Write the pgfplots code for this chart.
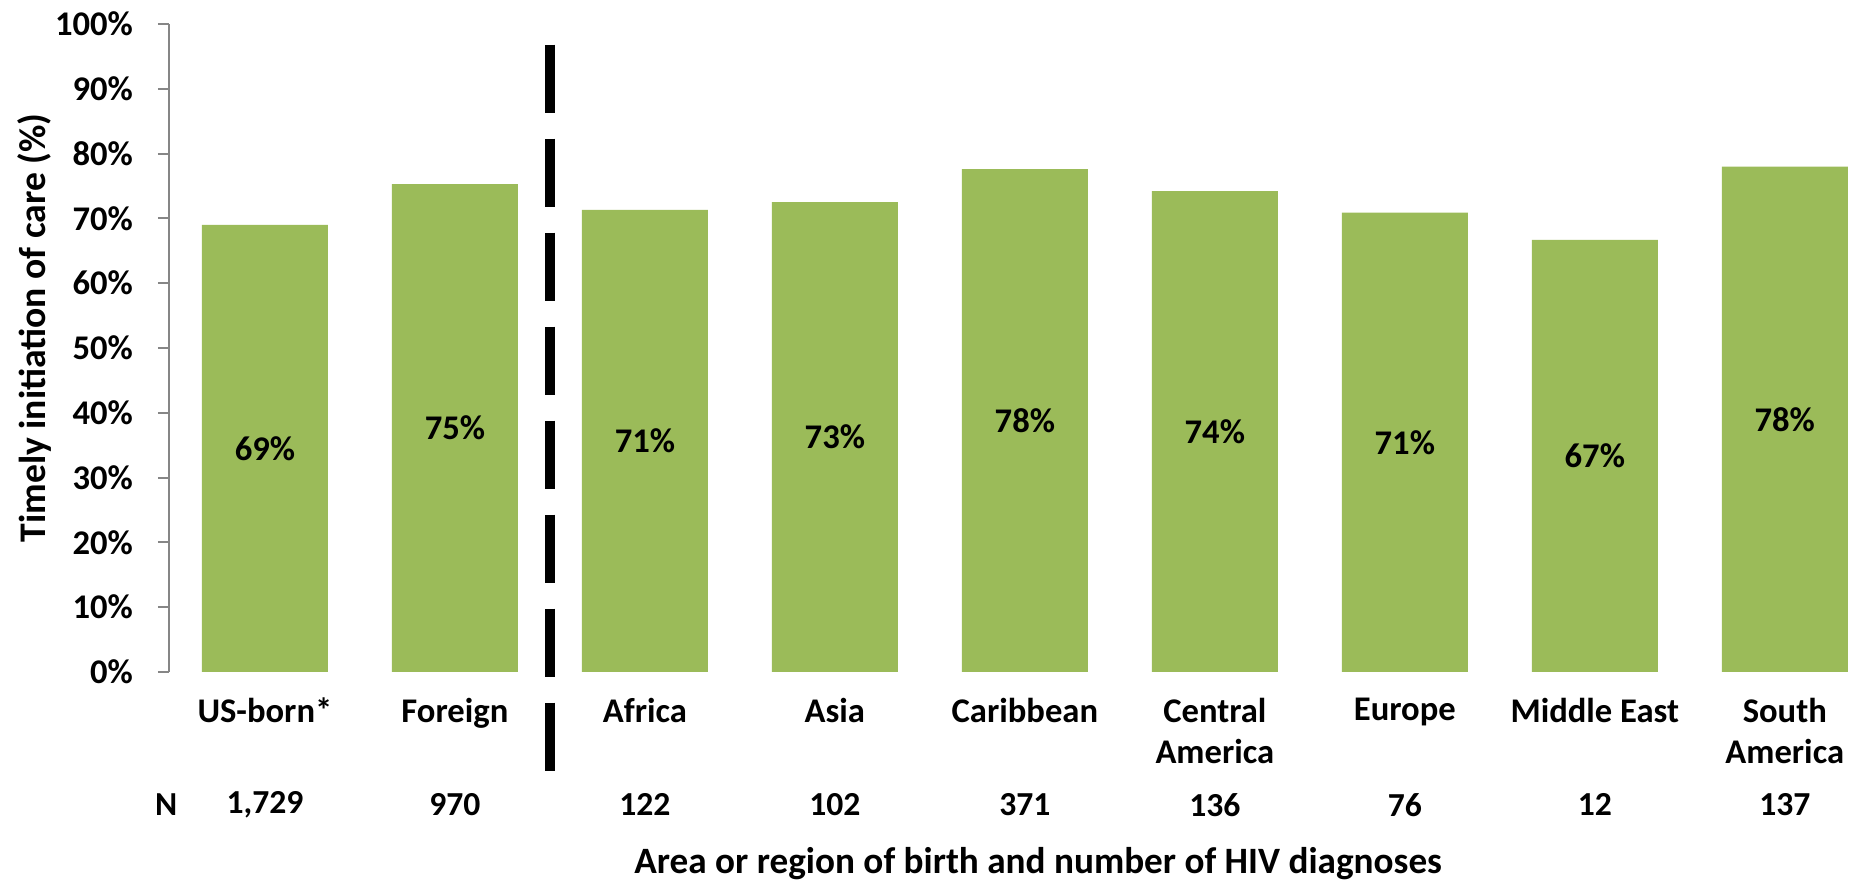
\documentclass[border=0pt]{standalone}
\usepackage{pgfplots}
\pgfplotsset{compat=1.18}
\usepackage{pgfplotstable}
\usepackage{fontspec}
\setmainfont{Carlito}
\definecolor{barg}{HTML}{9BBB59}
\definecolor{axg}{HTML}{868686}

\pgfplotstableread{
x v lab n
0 0.690 69\% 1,729
1 0.753 75\% 970
2 0.713 71\% 122
3 0.725 73\% 102
4 0.776 78\% 371
5 0.742 74\% 136
6 0.709 71\% 76
7 0.667 67\% 12
8 0.780 78\% 137
}\datatable

\begin{document}
\begin{tikzpicture}[font=\fontsize{17.3}{20.5}\selectfont\bfseries]
\begin{axis}[
  at={(0,0)}, anchor=south west,
  scale only axis, width=840pt, height=324pt,
  xmin=-0.505, xmax=8.338, ymin=0, ymax=1,
  clip=false,
  axis y line*=left, axis x line*=bottom,
  x axis line style={draw=none},
  y axis line style={draw=axg, line width=1pt, -},
  ytick={0,0.1,0.2,0.3,0.4,0.5,0.6,0.7,0.8,0.9,1},
  yticklabels={0\%,10\%,20\%,30\%,40\%,50\%,60\%,70\%,80\%,90\%,100\%},
  ytick style={draw=axg, line width=1pt},
  tick align=outside, major tick length=5.5pt,
  yticklabel style={anchor=east, xshift=-9pt},
  xtick={0,1,2,3,4,5,6,7,8},
  xtick style={draw=none},
  xticklabels={US-born*, Foreign, Africa, Asia, Caribbean, {Central\\America}, Europe, Middle East, {South\\America}},
  xticklabel style={align=center, anchor=north, yshift=-4pt},
]
\addplot[ybar, fill=barg, draw=none, bar width=63pt] table[x=x, y=v] {\datatable};
\addplot[draw=none, mark=none, nodes near coords, point meta=explicit symbolic,
  every node near coord/.style={anchor=center, font=\fontsize{17.3}{20.5}\selectfont\bfseries}]
  table[x=x, y expr=\thisrow{v}/2, meta=lab] {\datatable};
\addplot[draw=none, mark=none, nodes near coords, point meta=explicit symbolic,
  every node near coord/.style={anchor=center, font=\fontsize{16.8}{20.5}\selectfont\bfseries}]
  table[x=x, y expr=-0.205, meta=n] {\datatable};
\draw[black, line width=5pt, dash pattern=on 34pt off 13pt] (axis cs:1.5,0.968) -- (axis cs:1.5,-0.164);
\node[font=\fontsize{16.8}{20.5}\selectfont\bfseries] at (axis cs:-0.52,-0.205) {N};
\node[font=\fontsize{18.6}{22}\selectfont\bfseries] at (axis cs:4.07,-0.296) {Area or region of birth and number of HIV diagnoses};
\node[rotate=90, font=\fontsize{18.8}{22}\selectfont\bfseries] at (rel axis cs:0,0.531) [yshift=67pt] {Timely initiation of care (\%)};
\end{axis}
\pgfresetboundingbox
\path (-84.5pt,-105pt) rectangle (840pt,336pt);
\end{tikzpicture}
\end{document}
